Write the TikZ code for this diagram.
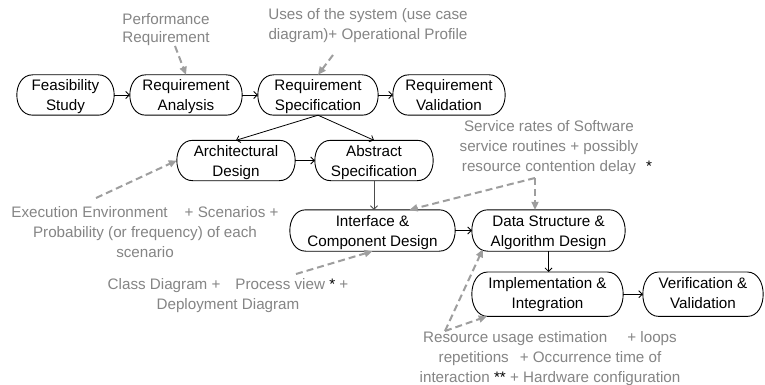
\documentclass[tikz,border=0pt]{standalone}
\usepackage{fontspec}
\setmainfont{Liberation Sans}
\usetikzlibrary{arrows.meta,calc}

\definecolor{notegray}{RGB}{133,133,133}
\definecolor{hintgray}{RGB}{158,158,158}

\begin{document}
\begin{tikzpicture}[x=1pt,y=-1pt,
  txt/.style={font=\fontsize{15.2}{20}\selectfont, align=center, inner sep=0pt},
  stage/.style={rectangle, minimum height=40pt, inner sep=0pt},
  stagetext/.style={txt, text=black, execute at end node={\vphantom{g}}},
  capsule/.style={draw=black, line width=0.9pt},
  note/.style={txt, text=notegray},
  starmark/.style={txt, text=black},
  conn/.style={draw=black, line width=0.8pt, -{Straight Barb[length=3.5pt,width=7pt]}},
  hint/.style={draw=hintgray, line width=2pt, dash pattern=on 7pt off 4pt,
    -{Triangle[length=8pt,width=7pt]}}
]
\fill[white] (0,0) rectangle (765,385);
\useasboundingbox (0,0) rectangle (765,385);

% process stages (outline boxes)
\node[stage, minimum width=97pt]  (feas)  at (65.5,95)  {};
\node[stage, minimum width=112pt] (ana)   at (186,95)   {};
\node[stage, minimum width=120pt] (spec)  at (318,95)   {};
\node[stage, minimum width=112pt] (val)   at (449,95)   {};
\node[stage, minimum width=118pt] (arch)  at (236,160.5) {};
\node[stage, minimum width=118pt] (abs)   at (374,160.5) {};
\node[stage, minimum width=165pt, minimum height=41pt] (intf) at (372.5,230.5) {};
\node[stage, minimum width=153pt, minimum height=41pt] (data) at (548.5,230.5) {};
\node[stage, minimum width=151pt, minimum height=44pt] (impl) at (547.5,294.2) {};
\node[stage, minimum width=120pt, minimum height=44pt] (verif) at (703,294.2) {};

% flat-sided capsule outline around every stage
\foreach \n in {feas,ana,spec,val,arch,abs,intf,data,impl,verif}
  \draw[capsule]
    ($(\n.north west)+(16,0)$) -- ($(\n.north east)+(-16,0)$)
    .. controls ($(\n.north east)+(5.3,0)$) and ($(\n.south east)+(5.3,0)$)
    .. ($(\n.south east)+(-16,0)$)
    -- ($(\n.south west)+(16,0)$)
    .. controls ($(\n.south west)+(-5.3,0)$) and ($(\n.north west)+(-5.3,0)$)
    .. cycle;

% stage names
\node[stagetext] (feas-t)  at ($(feas)+(0,2)$)  {Feasibility\\Study};
\node[stagetext] (ana-t)   at ($(ana)+(0,2)$)   {Requirement\\Analysis};
\node[stagetext] (spec-t)  at ($(spec)+(0,2)$)  {Requirement\\Specification};
\node[stagetext] (val-t)   at ($(val)+(0,2)$)   {Requirement\\Validation};
\node[stagetext] (arch-t)  at ($(arch)+(0,2)$)  {Architectural\\Design};
\node[stagetext] (abs-t)   at ($(abs)+(0,2)$)   {Abstract\\Specification};
\node[stagetext] (intf-t)  at ($(intf)+(0,2)$)  {Interface \&\\Component Design};
\node[stagetext] (data-t)  at ($(data)+(0,2)$)  {Data Structure \&\\Algorithm Design};
\node[stagetext] (impl-t)  at ($(impl)+(0,0.5)$) {Implementation \&\\Integration};
\node[stagetext] (verif-t) at ($(verif)+(0,0.5)$) {Verification \&\\Validation};

% process flow
\draw[conn] (feas) -- (ana);
\draw[conn] (ana) -- (spec);
\draw[conn] (spec) -- (val);
\draw[conn] (spec.south) -- (arch.north);
\draw[conn] (spec.south) -- (abs.north);
\draw[conn] (arch) -- (abs);
\draw[conn, draw=black!70] (abs.south) -- (abs.south |- intf.north);
\draw[conn] (intf) -- (data);
\draw[conn] (data.south) -- (data.south |- impl.north);
\draw[conn] (impl) -- (verif);

% performance inputs
\node[note, font=\fontsize{15.2}{18}\selectfont] (perf) at (166,30) {Performance\\Requirement};
\node[note] (uses) at (368,26) {Uses of the system (use case\\diagram)+ Operational Profile};
\node[note] (svc)  at (549,148) {Service rates of Software\\service routines + possibly\\resource contention delay};
\node[starmark] (svcstar) at (649,166) {*};
\node[note] (exec) at (145,232) {Execution Environment\hspace{17pt}+ Scenarios +\\Probability (or frequency) of each\\scenario};
\node[note] (cls)  at (228,295.5) {Class Diagram +\hspace{15pt}Process view \textcolor{black}{*} +\\Deployment Diagram};
\node[note] (res)  at (550,359) {Resource usage estimation\hspace{20pt}+ loops\\repetitions\hspace{11pt}+ Occurrence time of\\interaction \textcolor{black}{**} + Hardware configuration};

\coordinate (perfsrc) at (175,46);
\coordinate (usesrc)  at (333,55);
\coordinate (svcsrc)  at (535,178);
\coordinate (execsrc) at (96,198);
\coordinate (clssrc)  at (296,274);
\coordinate (ressrc)  at (445,331);

\draw[hint] (perfsrc) -- (ana.north);
\draw[hint] (usesrc) -- (spec.north);
\draw[hint] (svcsrc) -- (svcsrc |- data.north);
\draw[hint] (svcsrc) -- ($(intf.north)+(37,0)$);
\draw[hint] (execsrc) -- (arch.west);
\draw[hint] (clssrc) -- (intf.south);
\draw[hint] (ressrc) -- ($(data.south west)+(11,-2)$);
\draw[hint] (ressrc) -- ($(impl.south west)+(15,0)$);
\end{tikzpicture}
\end{document}
